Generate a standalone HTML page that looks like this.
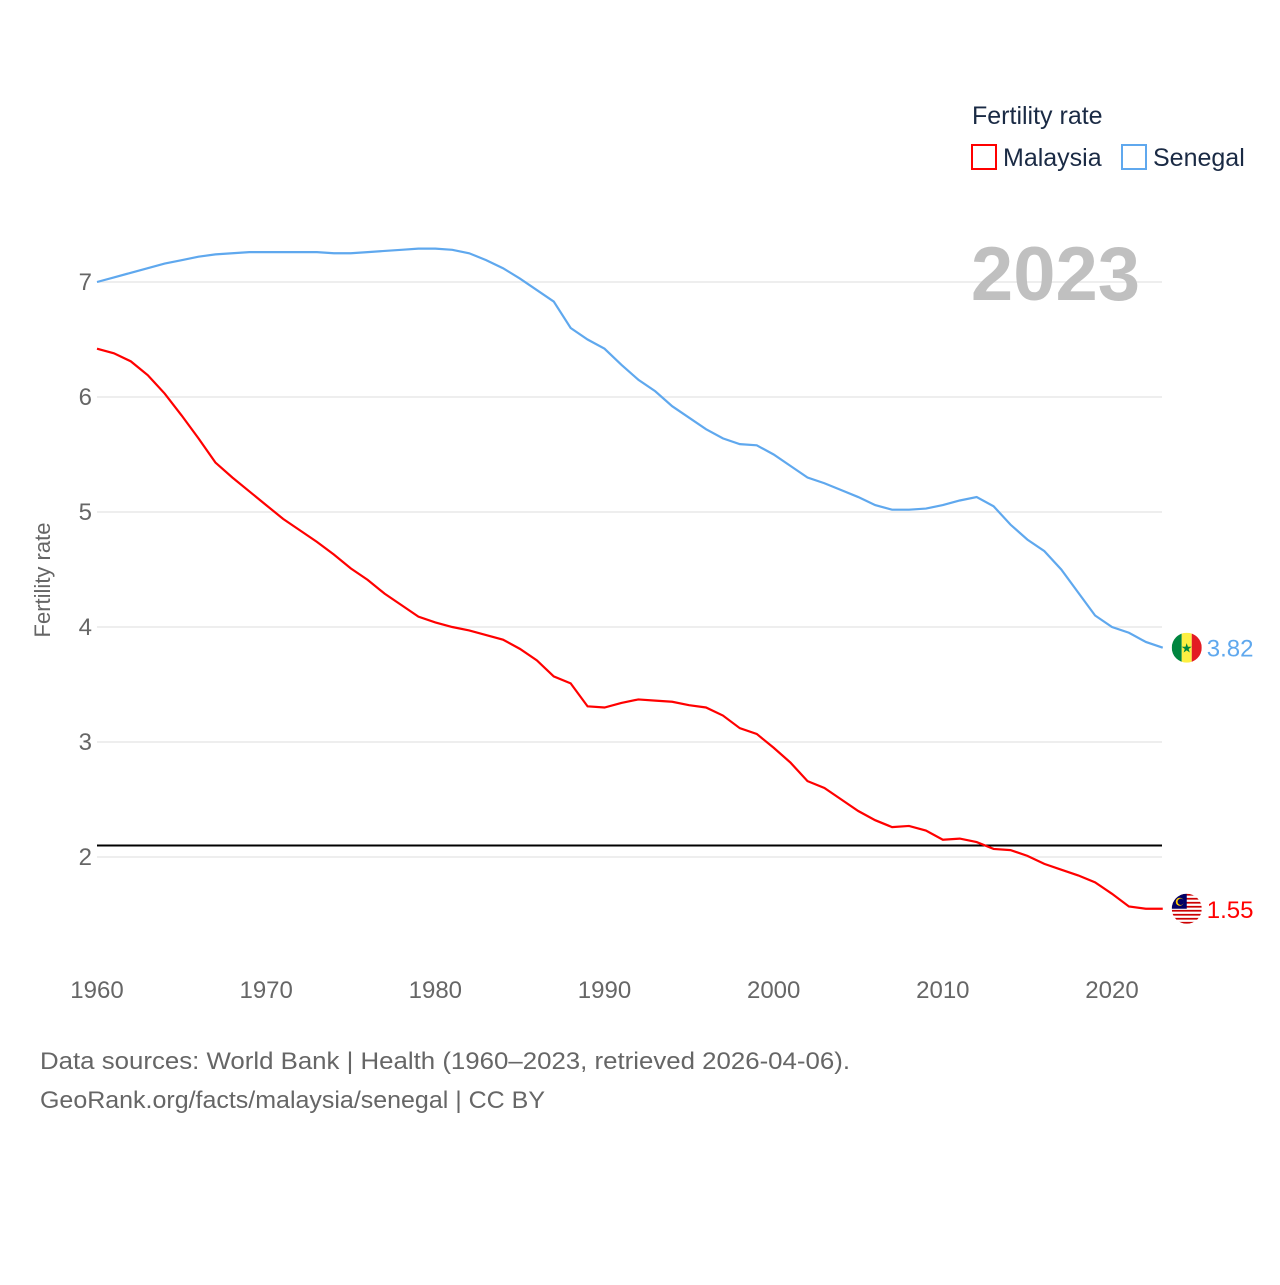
<!DOCTYPE html>
<html><head><meta charset="utf-8"><style>
body{margin:0;background:#fff;font-family:"Liberation Sans",sans-serif}
</style></head><body>
<svg width="1280" height="1280" xmlns="http://www.w3.org/2000/svg" font-family="Liberation Sans, sans-serif">
<rect width="1280" height="1280" fill="#fff"/>
<defs>
<clipPath id="fc1"><circle cx="0" cy="0" r="15"/></clipPath>
</defs>
<g id="grid"></g>
<line id="ref" stroke="#000" stroke-width="2"/>
<g id="series"></g>
<text x="1140" y="300" text-anchor="end" font-size="76" font-weight="bold" fill="#c0c0c0">2023</text>
<text transform="translate(50,580) rotate(-90)" text-anchor="middle" font-size="22" fill="#666">Fertility rate</text>
<text x="972" y="124" font-size="25" fill="#1a2a44">Fertility rate</text>
<rect x="972" y="145" width="24" height="24" fill="none" stroke="#f00" stroke-width="2"/>
<text x="1003" y="166" font-size="25" fill="#1a2a44">Malaysia</text>
<rect x="1122" y="145" width="24" height="24" fill="none" stroke="#5fa8ee" stroke-width="2"/>
<text x="1153" y="166" font-size="25" fill="#1a2a44">Senegal</text>
<text x="40" y="1069" font-size="24" fill="#666" textLength="810" lengthAdjust="spacingAndGlyphs">Data sources: World Bank | Health (1960–2023, retrieved 2026-04-06).</text>
<text x="40" y="1108" font-size="24" fill="#666" textLength="505" lengthAdjust="spacingAndGlyphs">GeoRank.org/facts/malaysia/senegal | CC BY</text>
</svg>
<script>
const years=[];for(let y=1960;y<=2023;y++)years.push(y);
const senegal=[7.0,7.04,7.08,7.12,7.16,7.19,7.22,7.24,7.25,7.26,7.26,7.26,7.26,7.26,7.25,7.25,7.26,7.27,7.28,7.29,7.29,7.28,7.25,7.19,7.12,7.03,6.93,6.83,6.6,6.5,6.42,6.28,6.15,6.05,5.92,5.82,5.72,5.64,5.59,5.58,5.5,5.4,5.3,5.25,5.19,5.13,5.06,5.02,5.02,5.03,5.06,5.1,5.13,5.05,4.89,4.76,4.66,4.5,4.3,4.1,4.0,3.95,3.87,3.82];
const malaysia=[6.42,6.38,6.31,6.19,6.03,5.84,5.64,5.43,5.3,5.18,5.06,4.94,4.84,4.74,4.63,4.51,4.41,4.29,4.19,4.09,4.04,4.0,3.97,3.93,3.89,3.81,3.71,3.57,3.51,3.31,3.30,3.34,3.37,3.36,3.35,3.32,3.30,3.23,3.12,3.07,2.95,2.82,2.66,2.60,2.50,2.40,2.32,2.26,2.27,2.23,2.15,2.16,2.13,2.07,2.06,2.01,1.94,1.89,1.84,1.78,1.68,1.57,1.55,1.55];
const yTicks=[2,3,4,5,6,7];
const xTicks=[1960,1970,1980,1990,2000,2010,2020];
const refValue=2.1;
const NS="http://www.w3.org/2000/svg";
const X=y=>97+(y-1960)*(1015/60);
const Y=v=>282+(7-v)*115;
const grid=document.getElementById('grid');
function mk(t,a,p){const e=document.createElementNS(NS,t);for(const k in a)e.setAttribute(k,a[k]);(p||grid).appendChild(e);return e;}
yTicks.forEach(v=>{
 const l=mk('line',{x1:97,x2:1162,y1:Y(v),y2:Y(v),stroke:'#e8e8e8','stroke-width':1.5});
 
 
 const t=mk('text',{x:92,y:Y(v)+8,'text-anchor':'end','font-size':24,fill:'#666'});t.textContent=v;
 
 
});
xTicks.forEach(v=>{
 const t=mk('text',{x:X(v),y:998,'text-anchor':'middle','font-size':24,fill:'#666'});t.textContent=v;
 
 
});
const ref=document.getElementById('ref');
ref.setAttribute('x1',97);ref.setAttribute('x2',1162);ref.setAttribute('y1',Y(refValue));ref.setAttribute('y2',Y(refValue));
const sg=document.getElementById('series');
function flag(name,cx,cy){
 const g=mk('g',{transform:'translate('+cx+','+cy+')','clip-path':'url(#fc1)'},sg);
 
 
 if(name==='senegal'){
  mk('rect',{x:-15,y:-15,width:10,height:30,fill:'#00853f'},g);
  mk('rect',{x:-5,y:-15,width:10,height:30,fill:'#fdef42'},g);
  mk('rect',{x:5,y:-15,width:10,height:30,fill:'#e31b23'},g);
  mk('text',{x:0,y:5,'text-anchor':'middle','font-size':13,fill:'#00853f'},g).textContent='★';
 } else {
  for(let i=0;i<8;i++)mk('rect',{x:-15,y:-15+i*4,width:30,height:2,fill:'#cc0001'},g);
  for(let i=0;i<8;i++)mk('rect',{x:-15,y:-13+i*4,width:30,height:2,fill:'#fff'},g);
  mk('rect',{x:-15,y:-15,width:15,height:15,fill:'#010066'},g);
  mk('circle',{cx:-7,cy:-7,r:4,fill:'#fc0'},g);
  mk('circle',{cx:-6,cy:-7,r:3.2,fill:'#010066'},g);
 }
}
function line(vals,color,name){
 const p=mk('polyline',{points:vals.map((v,i)=>X(years[i])+','+Y(v)).join(' '),fill:'none',stroke:color,'stroke-width':2.2},sg);
 
 
 const last=vals[vals.length-1],lx=X(years[years.length-1]),ly=Y(last);
 flag(name,lx+24,ly);
 const t=mk('text',{x:lx+44,y:ly+9,'font-size':24,fill:color},sg);t.textContent=last.toFixed(2);
 
 
}
line(senegal,'#5fa8ee','senegal');
line(malaysia,'#f00','malaysia');
</script>
</body></html>
